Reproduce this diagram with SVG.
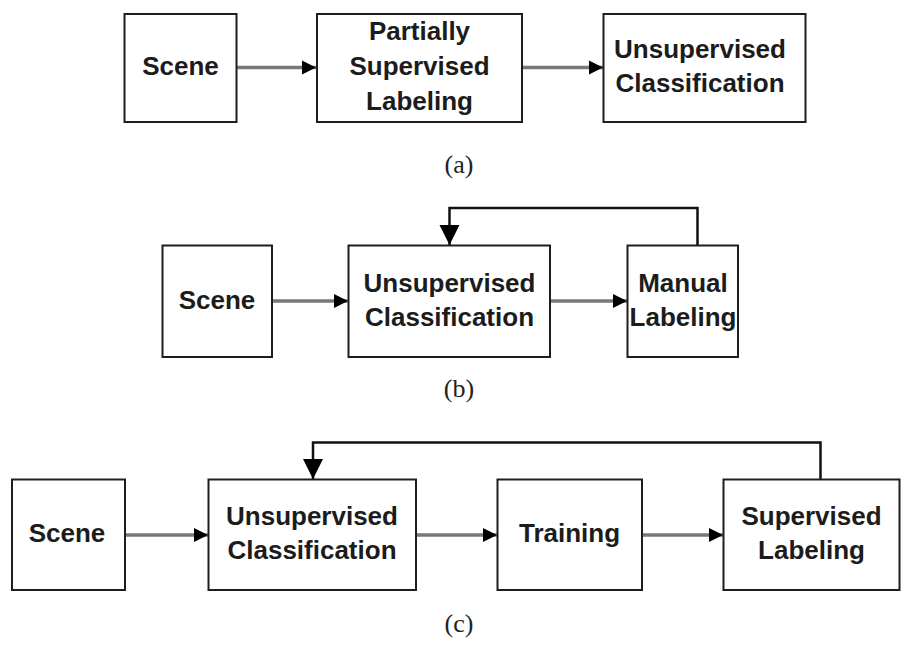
<svg xmlns="http://www.w3.org/2000/svg" width="910" height="645" viewBox="0 0 910 645">
<defs>
<style>
.box{fill:#fff;stroke:#1e1e1e;stroke-width:2}
.lbl{font-family:"Liberation Sans",Arial,sans-serif;font-weight:bold;font-size:26px;fill:#1c1c1c;text-anchor:middle}
.cap{font-family:"Liberation Serif","Times New Roman",serif;font-size:26px;fill:#222;text-anchor:middle}
.flow{fill:none;stroke:#787878;stroke-width:3.5;marker-end:url(#ah)}
.fb{fill:none;stroke:#111;stroke-width:2.5;marker-end:url(#ahb)}
</style>
<marker id="ah" markerUnits="userSpaceOnUse" markerWidth="15" markerHeight="16" refX="14" refY="8" orient="auto">
<polygon points="0,1 14,8 0,15" fill="#000"/>
</marker>
<marker id="ahb" markerUnits="userSpaceOnUse" markerWidth="21" markerHeight="22" refX="20" refY="11" orient="auto">
<polygon points="0,1 20,11 0,21" fill="#000"/>
</marker>
</defs>

<g id="connectors">
<line class="flow" x1="237" y1="67.5" x2="316" y2="67.5"/>
<line class="flow" x1="522" y1="67.5" x2="603" y2="67.5"/>
<line class="flow" x1="272" y1="301" x2="348" y2="301"/>
<line class="flow" x1="550" y1="301" x2="627" y2="301"/>
<path class="fb" d="M697.5,245.5 V208 H449.5 V245"/>
<line class="flow" x1="125" y1="535" x2="208" y2="535"/>
<line class="flow" x1="416" y1="535" x2="497" y2="535"/>
<line class="flow" x1="642" y1="535" x2="723" y2="535"/>
<path class="fb" d="M820.5,479.5 V442.5 H313 V479"/>
</g>

<g id="a-scene"><rect class="box" x="124.5" y="14" width="112" height="108"/><text class="lbl" x="180.5" y="74.5">Scene</text></g>
<g id="a-partial"><rect class="box" x="317" y="14" width="205" height="108"/><text class="lbl" x="419.5" y="40">Partially</text><text class="lbl" x="419.5" y="75">Supervised</text><text class="lbl" x="419.5" y="109.5">Labeling</text></g>
<g id="a-unsup"><rect class="box" x="603.5" y="14" width="202" height="108"/><text class="lbl" x="700" y="57.5">Unsupervised</text><text class="lbl" x="700" y="91.5">Classification</text></g>
<text class="cap" x="459" y="173">(a)</text>

<g id="b-scene"><rect class="box" x="162.5" y="245.5" width="109.5" height="111.5"/><text class="lbl" x="217" y="308.5">Scene</text></g>
<g id="b-unsup"><rect class="box" x="348.5" y="245.5" width="201.5" height="111.5"/><text class="lbl" x="449.5" y="291.5">Unsupervised</text><text class="lbl" x="449.5" y="325.5">Classification</text></g>
<g id="b-manual"><rect class="box" x="627.5" y="245.5" width="110.5" height="111.5"/><text class="lbl" x="683" y="291.5">Manual</text><text class="lbl" x="683" y="325.5">Labeling</text></g>
<text class="cap" x="459" y="397">(b)</text>

<g id="c-scene"><rect class="box" x="12" y="479.5" width="113" height="110.5"/><text class="lbl" x="67" y="542">Scene</text></g>
<g id="c-unsup"><rect class="box" x="208.5" y="479.5" width="207.5" height="110.5"/><text class="lbl" x="312" y="525">Unsupervised</text><text class="lbl" x="312" y="559">Classification</text></g>
<g id="c-training"><rect class="box" x="497.5" y="479.5" width="144.5" height="110.5"/><text class="lbl" x="569.5" y="542">Training</text></g>
<g id="c-superv"><rect class="box" x="723.5" y="479.5" width="176" height="110.5"/><text class="lbl" x="811.5" y="525">Supervised</text><text class="lbl" x="811.5" y="559">Labeling</text></g>
<text class="cap" x="459" y="632">(c)</text>
</svg>
